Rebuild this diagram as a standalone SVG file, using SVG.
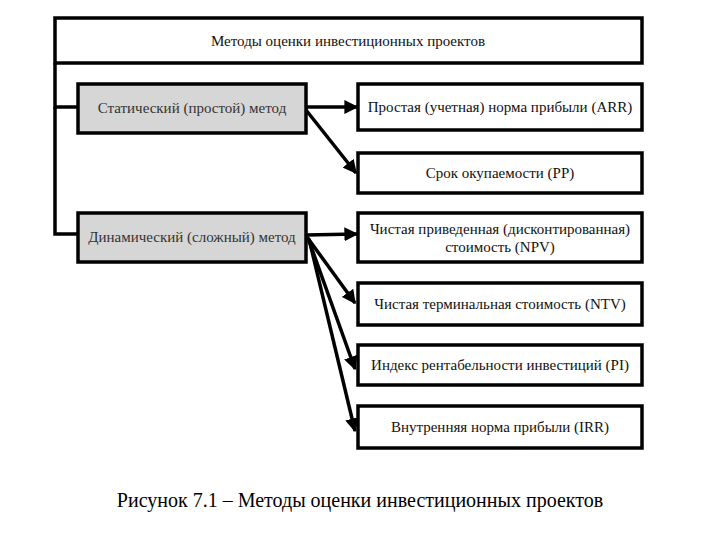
<svg xmlns="http://www.w3.org/2000/svg" width="720" height="540" viewBox="0 0 720 540">
<style>
.box{fill:#fff;stroke:#000;stroke-width:3.5}
.gbox{fill:#d6d6d6;stroke:#000;stroke-width:3.5}
.t{font-family:'Liberation Serif','Times New Roman','DejaVu Serif',serif;font-size:15px;fill:#111;text-anchor:middle}
.g{fill:#333}
.ln{stroke:#000;stroke-width:3.5;fill:none}
.ar{stroke:#000;stroke-width:3.5;fill:none;marker-end:url(#ah)}
.cap{font-family:'Liberation Serif','Times New Roman','DejaVu Serif',serif;font-size:20px;fill:#000;text-anchor:middle}
</style>
<defs>
<marker id="ah" viewBox="0 0 10 10" refX="9" refY="5" markerWidth="4" markerHeight="4" orient="auto" markerUnits="strokeWidth">
<path d="M0,0 L10,5 L0,10 z" fill="#000"/>
</marker>
</defs>
<rect width="720" height="540" fill="#fff"/>
<g id="connectors">
<polyline class="ln" points="78,107 55,107 55,63"/>
<polyline class="ln" points="55,107 55,234 78,234"/>
<line class="ar" x1="306" y1="107" x2="357" y2="107"/>
<line class="ar" x1="306" y1="110" x2="356" y2="173"/>
<line class="ar" x1="306" y1="235" x2="357" y2="234"/>
<line class="ar" x1="307" y1="237" x2="355" y2="303"/>
<line class="ar" x1="308" y1="238" x2="355" y2="369"/>
<line class="ar" x1="309" y1="239" x2="355" y2="431"/>
</g>
<g id="root">
<rect class="box" x="55" y="18" width="587" height="45"/>
<text class="t" x="348" y="46" font-family="Liberation Serif, serif">Методы оценки инвестиционных проектов</text>
</g>
<g id="static">
<rect class="gbox" x="78" y="84" width="228" height="49"/>
<text class="t g" x="192" y="113">Статический (простой) метод</text>
</g>
<g id="dynamic">
<rect class="gbox" x="78" y="213" width="228" height="49"/>
<text class="t g" x="192" y="242">Динамический (сложный) метод</text>
</g>
<g id="arr">
<rect class="box" x="358" y="84" width="284" height="46"/>
<text class="t" x="500" y="112">Простая (учетная) норма прибыли (ARR)</text>
</g>
<g id="pp">
<rect class="box" x="358" y="153" width="284" height="40"/>
<text class="t" x="500" y="178">Срок окупаемости (PP)</text>
</g>
<g id="npv">
<rect class="box" x="358" y="213" width="284" height="49"/>
<text class="t" x="500" y="234">Чистая приведенная (дисконтированная)</text>
<text class="t" x="500" y="252">стоимость (NPV)</text>
</g>
<g id="ntv">
<rect class="box" x="358" y="283" width="284" height="42"/>
<text class="t" x="500" y="309">Чистая терминальная стоимость (NTV)</text>
</g>
<g id="pi">
<rect class="box" x="358" y="345" width="284" height="40"/>
<text class="t" x="500" y="370">Индекс рентабельности инвестиций (PI)</text>
</g>
<g id="irr">
<rect class="box" x="358" y="406" width="284" height="42"/>
<text class="t" x="500" y="432">Внутренняя норма прибыли (IRR)</text>
</g>
<text class="cap" x="360" y="507">Рисунок 7.1 – Методы оценки инвестиционных проектов</text>
</svg>
